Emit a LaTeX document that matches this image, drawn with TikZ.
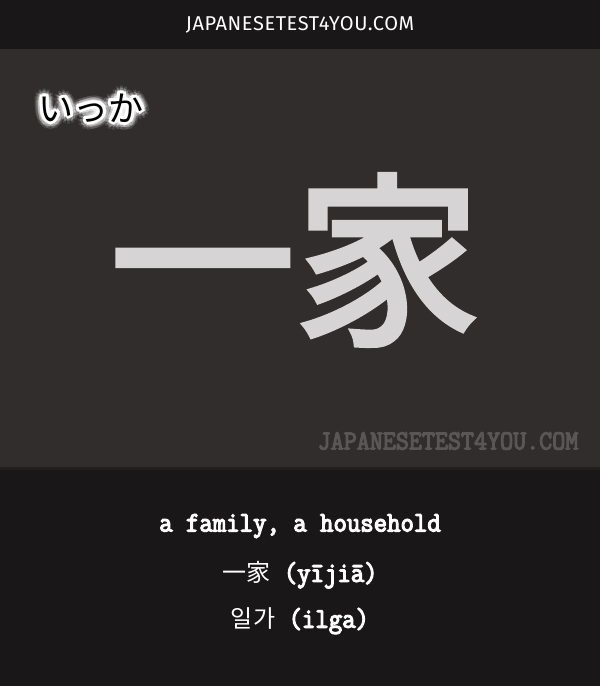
\documentclass[tikz,border=0pt]{standalone}
\usepackage{fontspec}
\usetikzlibrary{positioning}
\newfontfamily\jpfont{Noto Sans CJK JP}
\newfontfamily\bigfont{Noto Sans CJK JP}[FakeBold=3]
\newfontfamily\krfont{Noto Sans CJK KR}
\newfontfamily\slabfont{Latin Modern Mono}[FakeBold=4, FakeStretch=0.92]
\newfontfamily\logofont{Fira Sans}[LetterSpace=3]
\newcommand\cjkword[2]{{#1\fontsize{24}{24}\selectfont #2}}
\definecolor{barcol}{HTML}{1A1718}
\definecolor{panelcol}{HTML}{312D2D}
\definecolor{seamcol}{HTML}{211E1E}
\definecolor{chalkcol}{HTML}{D6D4D4}
\definecolor{markcol}{HTML}{5A5656}

\begin{document}
\begin{tikzpicture}[x=1pt,y=1pt,
    kana/.style={font=\jpfont\fontsize{35}{35}\selectfont, inner sep=0pt},
    meaning/.style={font=\slabfont\fontsize{28.3}{28.3}\selectfont, text=white, inner sep=0pt}]
    \useasboundingbox (0,0) rectangle (600,686);
    % backgrounds
    \fill[barcol] (0,0) rectangle (600,686);
    \fill[panelcol] (0,219) rectangle (600,637);
    \fill[seamcol] (0,216) rectangle (600,219);
    % site name on top
    \node[font=\logofont\fontsize{20}{20}\selectfont, text=white] (logo) at (300,661) {JAPANESETEST4YOU.COM};

    % reading with glow
    \coordinate (kanapos) at (91,578);
    \foreach \a in {0,30,...,330} {
        \node[kana, text=white, opacity=0.12] at ([shift={(\a:8)}]kanapos) {いっか};
        \node[kana, text=white, opacity=0.3] at ([shift={(\a:5.5)}]kanapos) {いっか};
        \node[kana, text=white] at ([shift={(\a:3)}]kanapos) {いっか};
    }
    \node[kana, text=black] (reading) at (kanapos) {いっか};

    % the word
    \node[font=\bigfont\fontsize{185}{185}\selectfont, text=chalkcol, inner sep=0pt] (word) at (295,426) {一家};
    \node[font=\slabfont\fontsize{27.5}{27.5}\selectfont, text=markcol, inner sep=0pt] (mark) at (448,245) {JAPANESETEST4YOU.COM};

    % meanings
    \node[meaning] (english) at (300,160) {a family, a household};
    \node[meaning] (chinese) at (300,111) {\cjkword{\jpfont}{一家} (yījiā)};
    \node[meaning] (korean) at (300,65) {\cjkword{\krfont}{일가} (ilga)};
\end{tikzpicture}
\end{document}
